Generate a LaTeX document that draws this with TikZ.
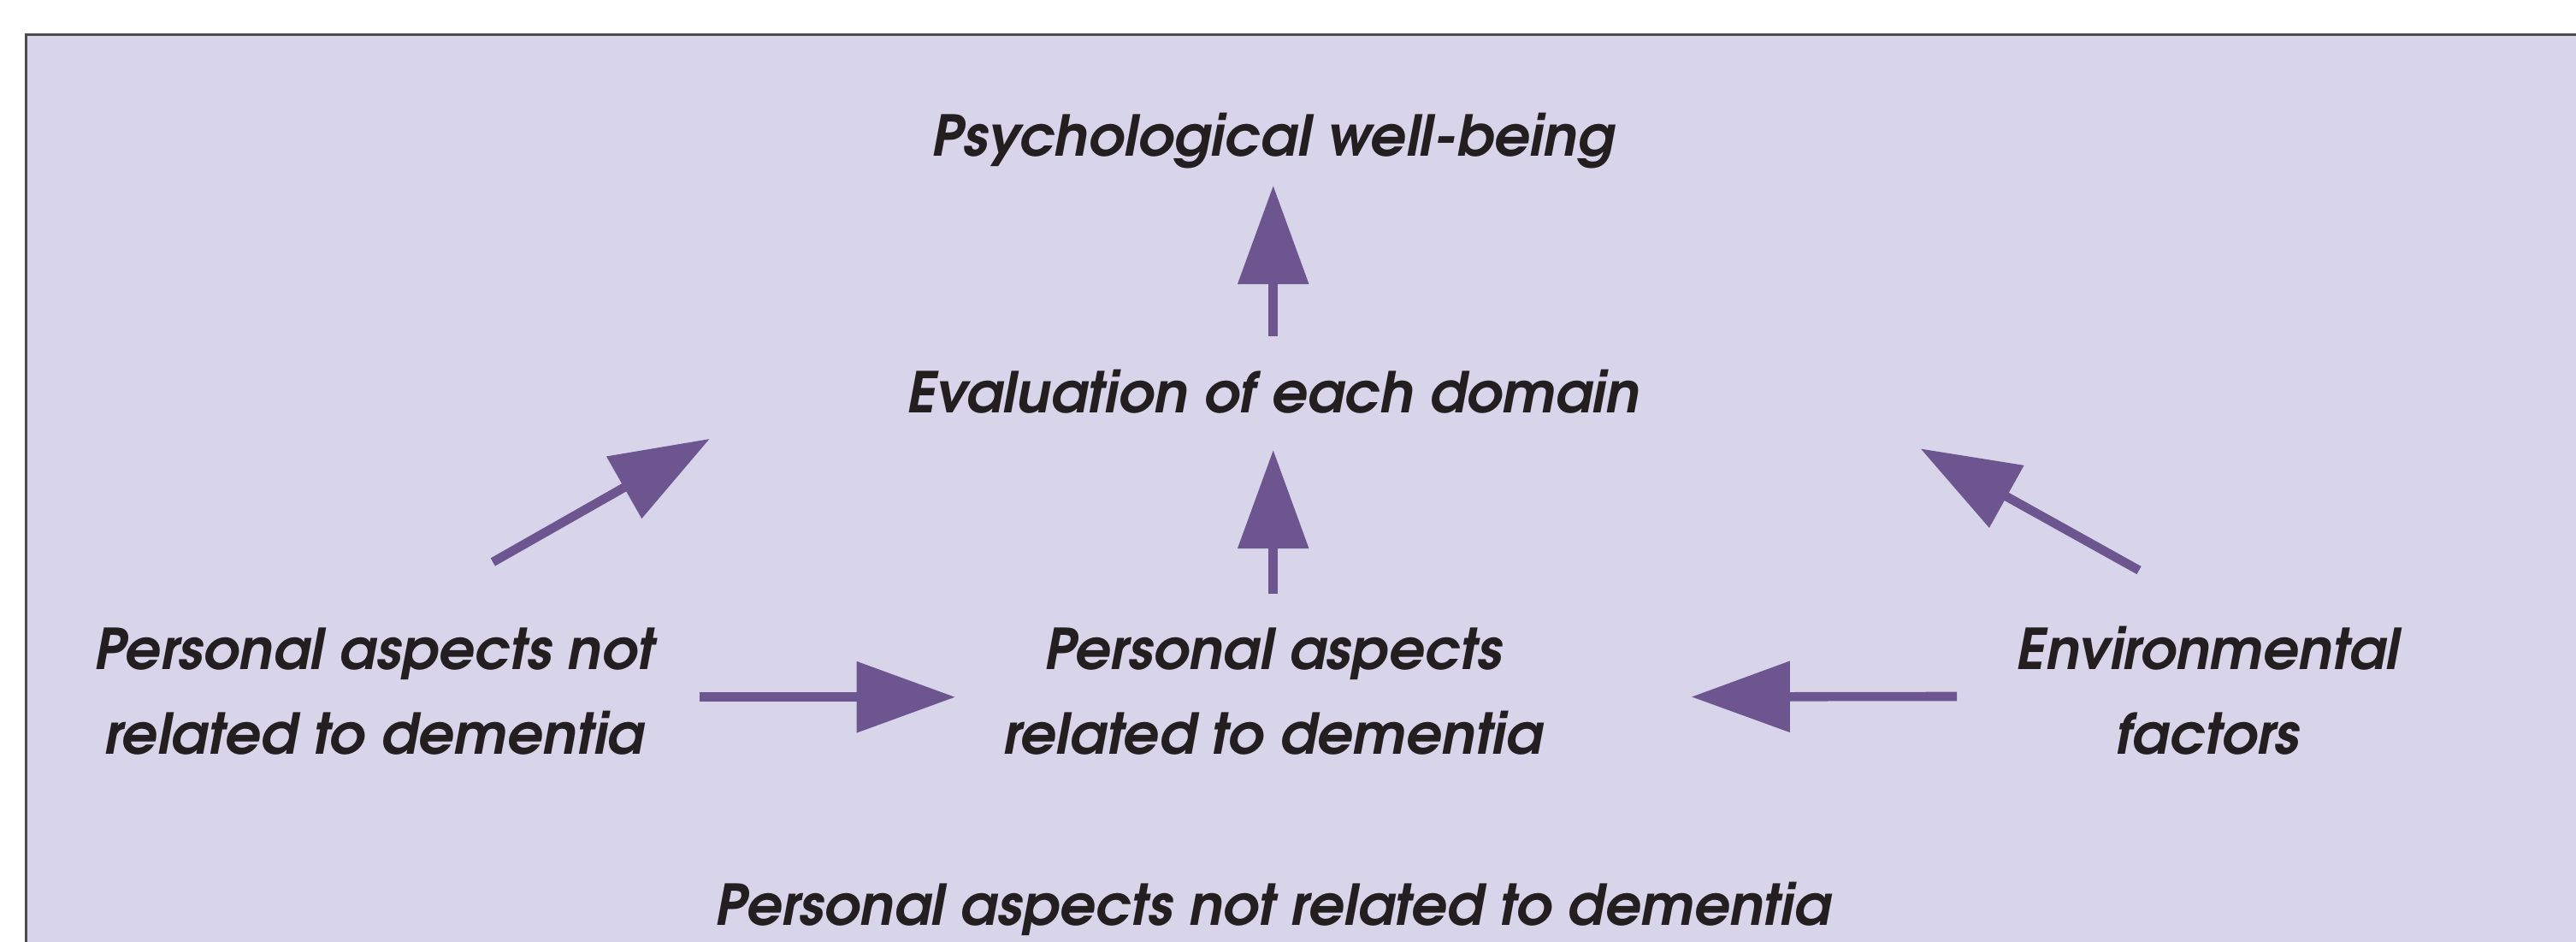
\documentclass[tikz,border=0pt]{standalone}
\usepackage{fontspec}
\setmainfont{texgyreadventor}[Extension=.otf, UprightFont=*-regular, BoldFont=*-bold, ItalicFont=*-italic, BoldItalicFont=*-bolditalic]
\usepackage{tikz}
\usetikzlibrary{positioning}
\usetikzlibrary{shapes,arrows}
\usetikzlibrary{arrows.meta}
\definecolor{panelfill}{HTML}{D8D5EA}
\definecolor{arrowpurple}{HTML}{6D5690}
\definecolor{textdark}{HTML}{231F20}

\begin{document}
\begin{tikzpicture}[x=0.02cm,y=-0.02cm,
    >={Triangle[length=1.2cm,width=0.84cm]},
    factor/.style={font=\fontsize{19.5}{29.5}\selectfont\bfseries\itshape,
        text=textdark, align=center, inner sep=0pt, anchor=base},
    link/.style={->, draw=arrowpurple, fill=arrowpurple, line width=0.11cm},
    ]
\useasboundingbox (0,0) rectangle (1568,573);
% background panel
\fill[panelfill] (16,21) rectangle (1568,573);
\draw[gray!60!black, line width=0.03cm] (16,573) -- (16,21) -- (1568,21);

% base of a two line node sits on its last line
\node[factor] (psy)  at (775,95)  {Psychological well-being};
\node[factor] (eval) at (775,251) {Evaluation of each domain};
\node[factor] (pand) at (228,459) {Personal aspects not\\ related to dementia};
\node[factor] (pad)  at (775,459) {Personal aspects\\ related to dementia};
\node[factor] (env)  at (1344,459) {Environmental\\ factors};
\node[factor] (note) at (775,563) {Personal aspects not related to dementia};

\coordinate (pandout) at (300,342);
\coordinate (pandin)  at (432,267);
\coordinate (envout)  at (1302,347);
\coordinate (envin)   at (1169,273);

\draw[link, shorten <=0.4cm, shorten >=0.2cm] (eval) -- (psy);
\draw[link, shorten <=0.4cm, shorten >=0.44cm] (pad) -- (eval);
\draw[link, shorten <=0.54cm, shorten >=0.58cm]
    ([yshift=-0.07cm]pand.east) -- ([yshift=-0.07cm]pad.west);
\draw[link, shorten <=0.72cm, shorten >=1.8cm]
    ([yshift=-0.07cm]env.west) -- ([yshift=-0.07cm]pad.east);
\draw[link] (pandout) -- (pandin);
\draw[link] (envout) -- (envin);
\end{tikzpicture}
\end{document}
